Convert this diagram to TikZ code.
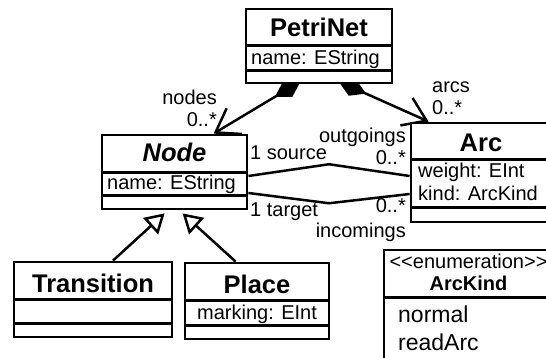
\documentclass[tikz,border=0pt]{standalone}
\usepackage{fontspec}
\setmainfont{Liberation Sans}
\usetikzlibrary{arrows.meta,calc,backgrounds}
\tikzset{
 cls/.style={draw, line width=2.8pt, fill=white, inner sep=0pt, rectangle},
 div/.style={line width=2.8pt},
 conn/.style={line width=2.5pt},
 ttl/.style={font=\fontsize{25.5}{30}\selectfont\bfseries, anchor=base, inner sep=0pt},
 attr/.style={font=\fontsize{20}{24}\selectfont, anchor=base west, inner sep=0pt},
 lbl/.style={font=\fontsize{20}{24}\selectfont, inner sep=0pt},
 lit/.style={font=\fontsize{23}{27}\selectfont, anchor=base west, inner sep=0pt},
 comp/.style={conn, {Diamond[length=30pt,width=18pt]}-{Straight Barb[length=22pt,width=30pt]}},
 inh/.style={conn, -{Triangle[open, length=19pt, width=22pt, fill=white]}},
}
\begin{document}
\begin{tikzpicture}[x=1pt,y=-1pt]
\useasboundingbox (0,0) rectangle (546,358);
% PetriNet
\node[cls, minimum width=146pt, minimum height=74pt] (petri) at (319,46) {};
\draw[div] ($(petri.north west)+(0,38)$) -- ($(petri.north east)+(0,38)$);
\draw[div] ($(petri.north west)+(0,63)$) -- ($(petri.north east)+(0,63)$);
\node[ttl] (petriT) at (319,37) {PetriNet};
\node[attr] (petriA) at (251,65) {name: EString};
% Node
\node[cls, minimum width=145pt, minimum height=74pt] (nodecls) at (174.5,172) {};
\draw[div] ($(nodecls.north west)+(0,39)$) -- ($(nodecls.north east)+(0,39)$);
\draw[div] ($(nodecls.north west)+(0,62)$) -- ($(nodecls.north east)+(0,62)$);
\node[ttl, font=\fontsize{25.5}{30}\selectfont\bfseries\itshape] (nodeT) at (174.5,162) {Node};
\node[attr] (nodeA) at (107,190) {name: EString};
% Arc
\node[cls, minimum width=140pt, minimum height=99pt] (arccls) at (481,172.5) {};
\draw[div] ($(arccls.north west)+(0,38)$) -- ($(arccls.north east)+(0,38)$);
\draw[div] ($(arccls.north west)+(0,86)$) -- ($(arccls.north east)+(0,86)$);
\node[ttl] (arcT) at (481,152) {Arc};
\node[attr] (arcA1) at (418,178) {weight: EInt};
\node[attr] (arcA2) at (418,201) {kind: ArcKind};
% Transition
\node[cls, minimum width=158pt, minimum height=75pt] (trans) at (93,299.5) {};
\draw[div] ($(trans.north west)+(0,39)$) -- ($(trans.north east)+(0,39)$);
\draw[div] ($(trans.north west)+(0,63)$) -- ($(trans.north east)+(0,63)$);
\node[ttl] (transT) at (93,292) {Transition};
% Place
\node[cls, minimum width=144pt, minimum height=76pt] (place) at (257,301) {};
\draw[div] ($(place.north west)+(0,39)$) -- ($(place.north east)+(0,39)$);
\draw[div] ($(place.north west)+(0,64)$) -- ($(place.north east)+(0,64)$);
\node[ttl] (placeT) at (257,293) {Place};
\node[attr] (placeA) at (197,319) {marking: EInt};
% Enumeration ArcKind
\node[cls, minimum width=172pt, minimum height=140pt] (enum) at (470,320) {};
\draw[div] ($(enum.north west)+(0,49)$) -- ($(enum.north east)+(0,49)$);
\node[lbl, anchor=base] (enumS) at (468.5,268) {\hbox{<}\hbox{<}enumeration\hbox{>}\hbox{>}};
\node[lbl, anchor=base, font=\fontsize{20}{24}\selectfont\bfseries] (enumT) at (468.5,290) {ArcKind};
\node[lit] (lit1) at (398,322) {normal};
\node[lit] (lit2) at (398,350) {readArc};
% labels
\node[lbl, anchor=base east] (lnodes) at (217,105) {nodes};
\node[lbl, anchor=base east] (lnodesm) at (217,127) {0..*};
\node[lbl, anchor=base west] (larcs) at (432,93) {arcs};
\node[lbl, anchor=base west] (larcsm) at (432,115) {0..*};
\node[lbl, anchor=base east] (lout) at (406,143) {outgoings};
\node[lbl, anchor=base east] (loutm) at (406,165) {0..*};
\node[lbl, anchor=base west] (lsrc) at (250,160) {1 source};
\node[lbl, anchor=base west] (ltgt) at (250,217) {1 target};
\node[lbl, anchor=base east] (linm) at (406,213) {0..*};
\node[lbl, anchor=base east] (lin) at (406,237) {incomings};
% connectors
\begin{scope}[on background layer]
\draw[comp] ($(petri.south west)+(56,-3)$) -- ($(nodecls.north west)+(113,0)$);
\draw[comp] ($(petri.south west)+(94,-3)$) -- ($(arccls.north west)+(19,0)$);
\draw[conn] ($(nodecls.east)+(0,4)$) -- ($(nodecls.east)!.5!(arccls.west)+(0,-8)$) -- ($(arccls.west)+(0,3.5)$);
\draw[conn] ($(nodecls.east)+(0,21)$) -- ($(nodecls.east)!.5!(arccls.west)+(0,31)$) -- ($(arccls.west)+(0,21.5)$);
\draw[inh] ($(trans.north)+(20,0)$) -- ($(nodecls.south west)+(64,3)$);
\draw[inh] ($(place.north west)+(52,0)$) -- ($(nodecls.south west)+(82,3)$);
\end{scope}
\end{tikzpicture}
\end{document}
